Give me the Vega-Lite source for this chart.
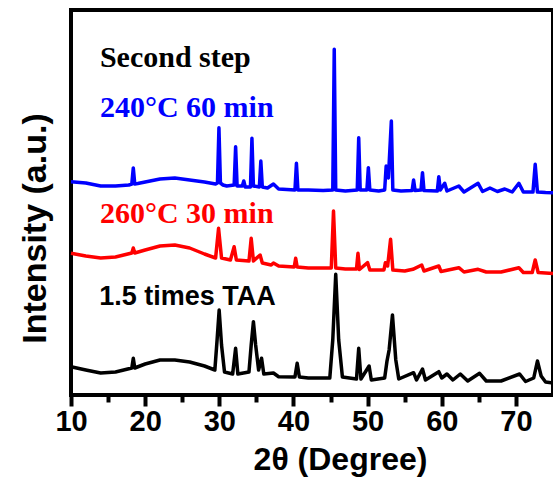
{
  "$schema": "https://vega.github.io/schema/vega-lite/v6.json",
  "width": 482,
  "height": 385,
  "autosize": "none",
  "padding": {"left": 71, "top": 10, "right": 0, "bottom": 84},
  "background": "white",
  "config": {
    "view": {"stroke": "black", "strokeWidth": 4},
    "font": "Liberation Sans"
  },
  "datasets": {
    "xrd": [
      {"t": 10, "v": 213.3, "s": "240°C 60 min"},
      {"t": 12, "v": 212, "s": "240°C 60 min"},
      {"t": 14, "v": 209, "s": "240°C 60 min"},
      {"t": 16, "v": 209, "s": "240°C 60 min"},
      {"t": 17.8, "v": 210, "s": "240°C 60 min"},
      {"t": 18.2, "v": 211, "s": "240°C 60 min"},
      {"t": 18.4, "v": 227, "s": "240°C 60 min"},
      {"t": 18.6, "v": 211, "s": "240°C 60 min"},
      {"t": 19, "v": 211.5, "s": "240°C 60 min"},
      {"t": 20, "v": 213, "s": "240°C 60 min"},
      {"t": 22, "v": 216, "s": "240°C 60 min"},
      {"t": 24, "v": 217, "s": "240°C 60 min"},
      {"t": 26, "v": 215, "s": "240°C 60 min"},
      {"t": 28, "v": 213, "s": "240°C 60 min"},
      {"t": 29.5, "v": 211, "s": "240°C 60 min"},
      {"t": 29.75, "v": 212, "s": "240°C 60 min"},
      {"t": 29.95, "v": 267.3, "s": "240°C 60 min"},
      {"t": 30.15, "v": 212, "s": "240°C 60 min"},
      {"t": 30.5, "v": 210, "s": "240°C 60 min"},
      {"t": 31, "v": 209, "s": "240°C 60 min"},
      {"t": 32.0, "v": 210, "s": "240°C 60 min"},
      {"t": 32.2, "v": 248.3, "s": "240°C 60 min"},
      {"t": 32.4, "v": 209, "s": "240°C 60 min"},
      {"t": 33.1, "v": 209, "s": "240°C 60 min"},
      {"t": 33.3, "v": 214, "s": "240°C 60 min"},
      {"t": 33.5, "v": 208, "s": "240°C 60 min"},
      {"t": 34.2, "v": 208, "s": "240°C 60 min"},
      {"t": 34.4, "v": 256.7, "s": "240°C 60 min"},
      {"t": 34.6, "v": 209, "s": "240°C 60 min"},
      {"t": 35.4, "v": 208, "s": "240°C 60 min"},
      {"t": 35.6, "v": 234, "s": "240°C 60 min"},
      {"t": 35.8, "v": 208, "s": "240°C 60 min"},
      {"t": 36.5, "v": 207, "s": "240°C 60 min"},
      {"t": 37.3, "v": 211, "s": "240°C 60 min"},
      {"t": 38, "v": 206, "s": "240°C 60 min"},
      {"t": 40.2, "v": 205, "s": "240°C 60 min"},
      {"t": 40.4, "v": 231.7, "s": "240°C 60 min"},
      {"t": 40.6, "v": 205, "s": "240°C 60 min"},
      {"t": 42, "v": 205, "s": "240°C 60 min"},
      {"t": 44, "v": 204.5, "s": "240°C 60 min"},
      {"t": 45.3, "v": 205, "s": "240°C 60 min"},
      {"t": 45.5, "v": 345.7, "s": "240°C 60 min"},
      {"t": 45.7, "v": 205, "s": "240°C 60 min"},
      {"t": 47, "v": 204, "s": "240°C 60 min"},
      {"t": 48.6, "v": 205, "s": "240°C 60 min"},
      {"t": 48.8, "v": 257.3, "s": "240°C 60 min"},
      {"t": 49.0, "v": 205, "s": "240°C 60 min"},
      {"t": 49.9, "v": 205, "s": "240°C 60 min"},
      {"t": 50.1, "v": 227.3, "s": "240°C 60 min"},
      {"t": 50.3, "v": 205, "s": "240°C 60 min"},
      {"t": 51.5, "v": 204, "s": "240°C 60 min"},
      {"t": 52.3, "v": 205, "s": "240°C 60 min"},
      {"t": 52.5, "v": 229, "s": "240°C 60 min"},
      {"t": 52.8, "v": 217, "s": "240°C 60 min"},
      {"t": 53.2, "v": 274, "s": "240°C 60 min"},
      {"t": 53.4, "v": 205, "s": "240°C 60 min"},
      {"t": 54.5, "v": 204, "s": "240°C 60 min"},
      {"t": 56.0, "v": 204.5, "s": "240°C 60 min"},
      {"t": 56.2, "v": 215, "s": "240°C 60 min"},
      {"t": 56.4, "v": 204.5, "s": "240°C 60 min"},
      {"t": 57.2, "v": 205, "s": "240°C 60 min"},
      {"t": 57.4, "v": 222.3, "s": "240°C 60 min"},
      {"t": 57.6, "v": 204.5, "s": "240°C 60 min"},
      {"t": 59.4, "v": 204, "s": "240°C 60 min"},
      {"t": 59.6, "v": 218.3, "s": "240°C 60 min"},
      {"t": 59.8, "v": 205, "s": "240°C 60 min"},
      {"t": 60.4, "v": 211.7, "s": "240°C 60 min"},
      {"t": 60.7, "v": 204, "s": "240°C 60 min"},
      {"t": 62.3, "v": 209, "s": "240°C 60 min"},
      {"t": 63, "v": 203, "s": "240°C 60 min"},
      {"t": 64.9, "v": 211.7, "s": "240°C 60 min"},
      {"t": 65.5, "v": 203.5, "s": "240°C 60 min"},
      {"t": 66.5, "v": 207, "s": "240°C 60 min"},
      {"t": 67.5, "v": 203.5, "s": "240°C 60 min"},
      {"t": 68.5, "v": 206, "s": "240°C 60 min"},
      {"t": 69.5, "v": 203, "s": "240°C 60 min"},
      {"t": 70.4, "v": 211.7, "s": "240°C 60 min"},
      {"t": 71, "v": 203, "s": "240°C 60 min"},
      {"t": 72.3, "v": 203, "s": "240°C 60 min"},
      {"t": 72.6, "v": 230.7, "s": "240°C 60 min"},
      {"t": 72.9, "v": 203, "s": "240°C 60 min"},
      {"t": 74, "v": 202.5, "s": "240°C 60 min"},
      {"t": 75, "v": 202.3, "s": "240°C 60 min"},

      {"t": 10, "v": 141.7, "s": "260°C 30 min"},
      {"t": 12, "v": 139, "s": "260°C 30 min"},
      {"t": 14, "v": 137, "s": "260°C 30 min"},
      {"t": 16, "v": 138, "s": "260°C 30 min"},
      {"t": 18.2, "v": 142, "s": "260°C 30 min"},
      {"t": 18.4, "v": 147, "s": "260°C 30 min"},
      {"t": 18.6, "v": 142, "s": "260°C 30 min"},
      {"t": 20, "v": 145, "s": "260°C 30 min"},
      {"t": 22, "v": 149, "s": "260°C 30 min"},
      {"t": 24, "v": 150, "s": "260°C 30 min"},
      {"t": 26, "v": 147, "s": "260°C 30 min"},
      {"t": 28, "v": 141, "s": "260°C 30 min"},
      {"t": 29.5, "v": 137, "s": "260°C 30 min"},
      {"t": 29.9, "v": 166.7, "s": "260°C 30 min"},
      {"t": 30.3, "v": 137, "s": "260°C 30 min"},
      {"t": 31.5, "v": 135, "s": "260°C 30 min"},
      {"t": 32.0, "v": 148.3, "s": "260°C 30 min"},
      {"t": 32.3, "v": 135, "s": "260°C 30 min"},
      {"t": 34.0, "v": 134, "s": "260°C 30 min"},
      {"t": 34.3, "v": 156.7, "s": "260°C 30 min"},
      {"t": 34.6, "v": 134, "s": "260°C 30 min"},
      {"t": 35.5, "v": 140, "s": "260°C 30 min"},
      {"t": 35.8, "v": 132, "s": "260°C 30 min"},
      {"t": 37, "v": 130, "s": "260°C 30 min"},
      {"t": 37.3, "v": 132, "s": "260°C 30 min"},
      {"t": 38, "v": 129, "s": "260°C 30 min"},
      {"t": 40.1, "v": 128, "s": "260°C 30 min"},
      {"t": 40.3, "v": 136.7, "s": "260°C 30 min"},
      {"t": 40.5, "v": 128, "s": "260°C 30 min"},
      {"t": 42, "v": 127, "s": "260°C 30 min"},
      {"t": 45.1, "v": 127, "s": "260°C 30 min"},
      {"t": 45.4, "v": 184, "s": "260°C 30 min"},
      {"t": 45.7, "v": 127, "s": "260°C 30 min"},
      {"t": 47, "v": 126, "s": "260°C 30 min"},
      {"t": 48.5, "v": 126, "s": "260°C 30 min"},
      {"t": 48.7, "v": 141.7, "s": "260°C 30 min"},
      {"t": 48.9, "v": 125.5, "s": "260°C 30 min"},
      {"t": 50.0, "v": 132.3, "s": "260°C 30 min"},
      {"t": 50.3, "v": 125, "s": "260°C 30 min"},
      {"t": 52.2, "v": 125, "s": "260°C 30 min"},
      {"t": 52.4, "v": 132.3, "s": "260°C 30 min"},
      {"t": 52.7, "v": 129, "s": "260°C 30 min"},
      {"t": 53.1, "v": 155.7, "s": "260°C 30 min"},
      {"t": 53.4, "v": 125, "s": "260°C 30 min"},
      {"t": 55, "v": 124, "s": "260°C 30 min"},
      {"t": 56.1, "v": 125.7, "s": "260°C 30 min"},
      {"t": 57.3, "v": 130, "s": "260°C 30 min"},
      {"t": 57.6, "v": 124, "s": "260°C 30 min"},
      {"t": 59.6, "v": 129, "s": "260°C 30 min"},
      {"t": 59.9, "v": 123.5, "s": "260°C 30 min"},
      {"t": 62.3, "v": 127.3, "s": "260°C 30 min"},
      {"t": 63, "v": 123, "s": "260°C 30 min"},
      {"t": 64.9, "v": 125.7, "s": "260°C 30 min"},
      {"t": 66, "v": 123, "s": "260°C 30 min"},
      {"t": 68, "v": 123, "s": "260°C 30 min"},
      {"t": 70.4, "v": 127.3, "s": "260°C 30 min"},
      {"t": 71, "v": 122.5, "s": "260°C 30 min"},
      {"t": 72.2, "v": 122.5, "s": "260°C 30 min"},
      {"t": 72.6, "v": 135, "s": "260°C 30 min"},
      {"t": 73.0, "v": 122.5, "s": "260°C 30 min"},
      {"t": 75, "v": 121.5, "s": "260°C 30 min"},

      {"t": 10, "v": 28.3, "s": "1.5 times TAA"},
      {"t": 12, "v": 25, "s": "1.5 times TAA"},
      {"t": 14, "v": 22, "s": "1.5 times TAA"},
      {"t": 16, "v": 23, "s": "1.5 times TAA"},
      {"t": 18.2, "v": 27, "s": "1.5 times TAA"},
      {"t": 18.4, "v": 36.7, "s": "1.5 times TAA"},
      {"t": 18.6, "v": 27, "s": "1.5 times TAA"},
      {"t": 20, "v": 31, "s": "1.5 times TAA"},
      {"t": 22, "v": 35, "s": "1.5 times TAA"},
      {"t": 24, "v": 35, "s": "1.5 times TAA"},
      {"t": 26, "v": 33, "s": "1.5 times TAA"},
      {"t": 28, "v": 29, "s": "1.5 times TAA"},
      {"t": 29.4, "v": 25, "s": "1.5 times TAA"},
      {"t": 29.7, "v": 55, "s": "1.5 times TAA"},
      {"t": 29.98, "v": 85, "s": "1.5 times TAA"},
      {"t": 30.3, "v": 50, "s": "1.5 times TAA"},
      {"t": 30.7, "v": 23, "s": "1.5 times TAA"},
      {"t": 31.8, "v": 21, "s": "1.5 times TAA"},
      {"t": 32.2, "v": 46.7, "s": "1.5 times TAA"},
      {"t": 32.5, "v": 21, "s": "1.5 times TAA"},
      {"t": 34.0, "v": 23, "s": "1.5 times TAA"},
      {"t": 34.3, "v": 50, "s": "1.5 times TAA"},
      {"t": 34.6, "v": 73.3, "s": "1.5 times TAA"},
      {"t": 34.9, "v": 50, "s": "1.5 times TAA"},
      {"t": 35.3, "v": 25, "s": "1.5 times TAA"},
      {"t": 35.7, "v": 36.7, "s": "1.5 times TAA"},
      {"t": 36.0, "v": 21, "s": "1.5 times TAA"},
      {"t": 37.3, "v": 22, "s": "1.5 times TAA"},
      {"t": 38, "v": 18.3, "s": "1.5 times TAA"},
      {"t": 40.2, "v": 18, "s": "1.5 times TAA"},
      {"t": 40.5, "v": 31.7, "s": "1.5 times TAA"},
      {"t": 40.8, "v": 18, "s": "1.5 times TAA"},
      {"t": 42, "v": 17, "s": "1.5 times TAA"},
      {"t": 44.9, "v": 17, "s": "1.5 times TAA"},
      {"t": 45.3, "v": 55, "s": "1.5 times TAA"},
      {"t": 45.7, "v": 120.7, "s": "1.5 times TAA"},
      {"t": 46.1, "v": 55, "s": "1.5 times TAA"},
      {"t": 46.6, "v": 18, "s": "1.5 times TAA"},
      {"t": 48.5, "v": 16, "s": "1.5 times TAA"},
      {"t": 48.8, "v": 46.7, "s": "1.5 times TAA"},
      {"t": 49.1, "v": 16, "s": "1.5 times TAA"},
      {"t": 50.2, "v": 29, "s": "1.5 times TAA"},
      {"t": 50.5, "v": 15, "s": "1.5 times TAA"},
      {"t": 52.3, "v": 17, "s": "1.5 times TAA"},
      {"t": 52.6, "v": 33.3, "s": "1.5 times TAA"},
      {"t": 52.9, "v": 45, "s": "1.5 times TAA"},
      {"t": 53.35, "v": 80, "s": "1.5 times TAA"},
      {"t": 53.8, "v": 35, "s": "1.5 times TAA"},
      {"t": 54.2, "v": 16, "s": "1.5 times TAA"},
      {"t": 56.2, "v": 22.3, "s": "1.5 times TAA"},
      {"t": 56.6, "v": 15, "s": "1.5 times TAA"},
      {"t": 57.4, "v": 26, "s": "1.5 times TAA"},
      {"t": 57.8, "v": 15, "s": "1.5 times TAA"},
      {"t": 59.6, "v": 23.3, "s": "1.5 times TAA"},
      {"t": 60.0, "v": 17, "s": "1.5 times TAA"},
      {"t": 60.7, "v": 21, "s": "1.5 times TAA"},
      {"t": 61.5, "v": 15, "s": "1.5 times TAA"},
      {"t": 62.5, "v": 21, "s": "1.5 times TAA"},
      {"t": 63.5, "v": 14, "s": "1.5 times TAA"},
      {"t": 65.1, "v": 21.7, "s": "1.5 times TAA"},
      {"t": 66, "v": 14, "s": "1.5 times TAA"},
      {"t": 68, "v": 14, "s": "1.5 times TAA"},
      {"t": 70.5, "v": 21, "s": "1.5 times TAA"},
      {"t": 71.3, "v": 13.5, "s": "1.5 times TAA"},
      {"t": 72.4, "v": 17, "s": "1.5 times TAA"},
      {"t": 72.9, "v": 34, "s": "1.5 times TAA"},
      {"t": 73.4, "v": 19, "s": "1.5 times TAA"},
      {"t": 74, "v": 13, "s": "1.5 times TAA"},
      {"t": 75, "v": 12, "s": "1.5 times TAA"}
    ],
    "serifLabels": [
      {"t": 13.9, "v": 328.3, "s": "Second step"},
      {"t": 13.9, "v": 278.3, "s": "240°C 60 min"},
      {"t": 13.9, "v": 171.7, "s": "260°C 30 min"}
    ],
    "sansLabels": [
      {"t": 13.8, "v": 90, "s": "1.5 times TAA"}
    ]
  },
  "layer": [
    {
      "data": {"name": "xrd"},
      "mark": {"type": "line", "strokeWidth": 3.5, "strokeJoin": "round"},
      "encoding": {
        "x": {
          "field": "t", "type": "quantitative",
          "scale": {"domain": [10, 75], "nice": false, "zero": false},
          "axis": {
            "title": "2θ (Degree)",
            "values": [10, 15, 20, 25, 30, 35, 40, 45, 50, 55, 60, 65, 70],
            "labelExpr": "datum.value % 10 === 0 ? datum.label : ''",
            "grid": false,
            "domain": false,
            "ticks": true,
            "tickColor": "#000000",
            "tickWidth": 4,
            "tickSize": {"condition": {"test": "datum.value % 10 === 0", "value": 11}, "value": 7},
            "tickOpacity": 1,
            "labelFont": "Liberation Sans",
            "labelFontWeight": "bold",
            "labelFontSize": 29,
            "labelColor": "black",
            "labelPadding": 1,
            "labelFlush": false,
            "labelOverlap": false,
            "titleFont": "Liberation Sans",
            "titleFontWeight": "bold",
            "titleFontSize": 32,
            "titleColor": "black",
            "titleAlign": "center",
            "titleBaseline": "alphabetic",
            "titleX": 269,
            "titleY": 74
          }
        },
        "y": {
          "field": "v", "type": "quantitative",
          "scale": {"domain": [0, 385], "nice": false, "zero": false},
          "axis": {
            "title": "Intensity (a.u.)",
            "labels": false,
            "ticks": false,
            "domain": false,
            "grid": false,
            "titleFont": "Liberation Sans",
            "titleFontWeight": "bold",
            "titleFontSize": 34,
            "titleColor": "black",
            "titleAngle": -90,
            "titleAlign": "center",
            "titleBaseline": "alphabetic",
            "titleX": -26,
            "titleY": 218
          }
        },
        "color": {
          "field": "s", "type": "nominal",
          "scale": {
            "domain": ["240°C 60 min", "260°C 30 min", "1.5 times TAA", "Second step"],
            "range": ["#0000FF", "#FF0000", "#000000", "#000000"]
          },
          "legend": null
        }
      }
    },
    {
      "data": {"name": "serifLabels"},
      "mark": {"type": "text", "font": "Liberation Serif", "fontWeight": "bold", "fontSize": 30, "align": "left", "baseline": "alphabetic"},
      "encoding": {
        "x": {"field": "t", "type": "quantitative"},
        "y": {"field": "v", "type": "quantitative"},
        "text": {"field": "s"},
        "color": {"field": "s", "type": "nominal", "legend": null}
      }
    },
    {
      "data": {"name": "sansLabels"},
      "mark": {"type": "text", "font": "Liberation Sans", "fontWeight": "bold", "fontSize": 27, "align": "left", "baseline": "alphabetic"},
      "encoding": {
        "x": {"field": "t", "type": "quantitative"},
        "y": {"field": "v", "type": "quantitative"},
        "text": {"field": "s"},
        "color": {"field": "s", "type": "nominal", "legend": null}
      }
    }
  ]
}
